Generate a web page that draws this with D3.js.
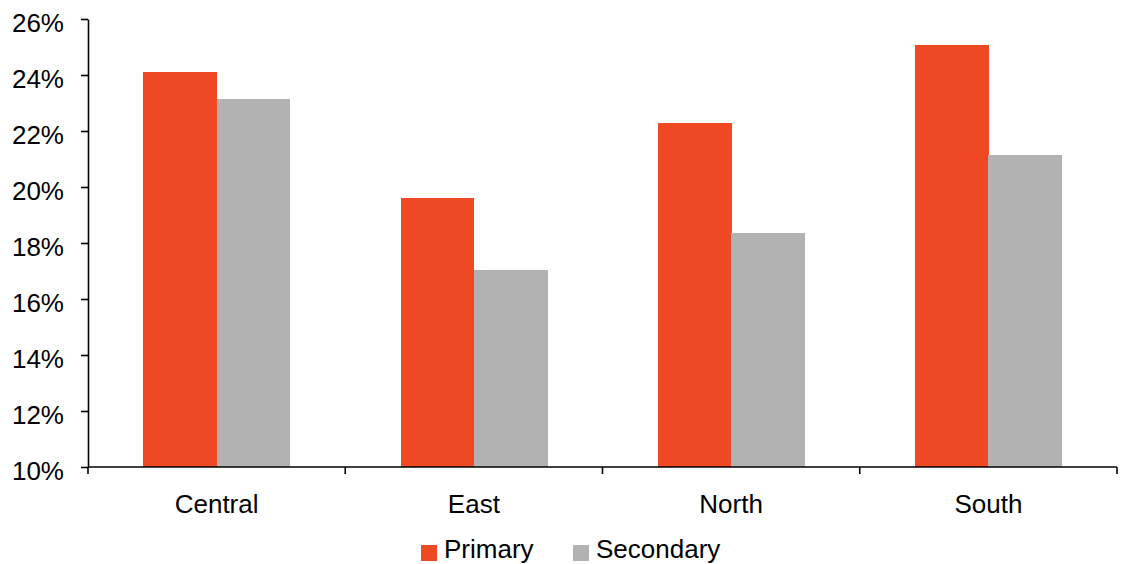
<!DOCTYPE html>
<html>
<head>
<meta charset="utf-8">
<script src="https://cdn.jsdelivr.net/npm/d3@7"></script>
<style>
  html, body { margin: 0; padding: 0; background: #fff; }
  svg { display: block; }
  text { font-family: "Liberation Sans", Arial, sans-serif; fill: #000; }
</style>
</head>
<body>
<svg id="chart" width="1123" height="564"></svg>
<script>
const categories = ["Central", "East", "North", "South"];
const seriesNames = ["Primary", "Secondary"];
const primary = [24.1, 19.6, 22.27, 25.07];
const secondary = [23.13, 17.05, 18.34, 21.16];
const yTicks = [10, 12, 14, 16, 18, 20, 22, 24, 26];
const colors = ["#ef4923", "#b2b2b2"];

(function () {
const svg = d3.select("#chart");
const mLeft = 88, mRight = 1117, mTop = 19, mBottom = 467;

const x0 = d3.scaleBand().domain(categories).range([mLeft, mRight]).padding(0);
const bw = x0.bandwidth();
const x1 = d3.scaleBand().domain(seriesNames).range([bw * 0.215, bw * 0.785]).padding(0);
const y = d3.scaleLinear().domain([10, 26]).range([mBottom, mTop]);

const values = [primary, secondary];
const data = categories.map((c, i) => ({
  cat: c,
  vals: seriesNames.map((s, j) => ({ s, v: values[j][i], color: colors[j] }))
}));

const groups = svg.append("g").selectAll("g").data(data).join("g")
  .attr("transform", d => `translate(${x0(d.cat)},0)`);
groups.selectAll("rect").data(d => d.vals).join("rect")
  .attr("x", d => x1(d.s))
  .attr("width", x1.bandwidth() + 0.5)
  .attr("y", d => y(d.v))
  .attr("height", d => y(10) - y(d.v))
  .attr("fill", d => d.color)
  .attr("shape-rendering", "crispEdges");

// Y axis
const yAxis = svg.append("g").attr("transform", `translate(${mLeft},0)`)
  .call(d3.axisLeft(y).tickValues(yTicks).tickFormat(d => d + "%").tickSize(7).tickSizeOuter(0).tickPadding(17));
yAxis.select(".domain").attr("stroke", "#000").attr("stroke-width", 1.6);
yAxis.selectAll(".tick line").attr("stroke", "#000").attr("stroke-width", 1.6);
yAxis.selectAll(".tick text").attr("font-size", 26).attr("dy", "0.47em")
  .style("font-family", '"Liberation Sans", Arial, sans-serif');

// X axis with boundary ticks
const xAxisG = svg.append("g").attr("transform", `translate(0,${mBottom})`);
xAxisG.append("line").attr("x1", mLeft).attr("x2", mRight).attr("y1", 0).attr("y2", 0)
  .attr("stroke", "#000").attr("stroke-width", 1.6);
const bounds = categories.map(c => x0(c)).concat([x0(categories[categories.length - 1]) + bw]);
xAxisG.selectAll("line.b").data(bounds).join("line").attr("class", "b")
  .attr("x1", d => d).attr("x2", d => d).attr("y1", 0).attr("y2", 7)
  .attr("stroke", "#000").attr("stroke-width", 1.6);
xAxisG.selectAll("text.cat").data(categories).join("text").attr("class", "cat")
  .attr("x", d => x0(d) + bw / 2)
  .attr("y", 46)
  .attr("text-anchor", "middle")
  .attr("font-size", 26)
  .text(d => d);

// Legend
const legendX = [421, 573];
const legend = svg.append("g").selectAll("g").data(seriesNames).join("g")
  .attr("transform", (d, i) => `translate(${legendX[i]},545)`);
legend.append("rect").attr("width", 16).attr("height", 16)
  .attr("fill", (d, i) => colors[i]);
legend.append("text").attr("x", 23).attr("y", 13).attr("font-size", 26).text(d => d);
})();
</script>
</body>
</html>
